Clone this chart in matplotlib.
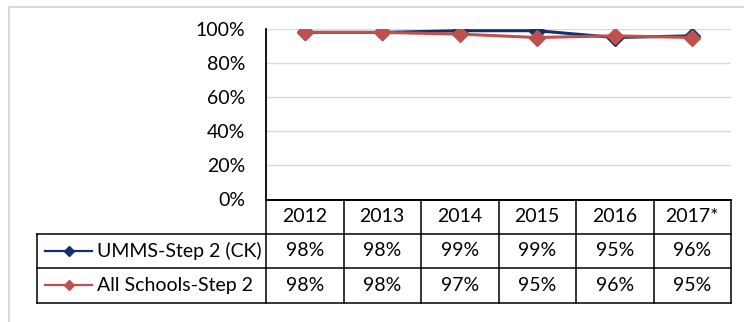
import numpy as np
import matplotlib.pyplot as plt
from matplotlib.lines import Line2D
from matplotlib.ticker import PercentFormatter

years = ["2012", "2013", "2014", "2015", "2016", "2017*"]
umms = [98, 98, 99, 99, 95, 96]
all_schools = [98, 98, 97, 95, 96, 95]
series_names = ["UMMS-Step 2 (CK)", "All Schools-Step 2"]
series_colors = ["#14306A", "#C0504D"]
series_values = [umms, all_schools]

plt.rcParams['font.family'] = ['Lato', 'DejaVu Sans']
FS = 14

W, H = 744, 322
fig = plt.figure(figsize=(W / 100, H / 100), dpi=100)


def box(x0, y0, x1, y1):
    # pixel box (top-left origin) -> figure fraction rect
    return [x0 / W, 1 - y1 / H, (x1 - x0) / W, (y1 - y0) / H]


# light chart frame
fig.add_artist(Line2D([8.5 / W, 8.5 / W], [0, 1 - 7 / H], transform=fig.transFigure,
                      color="#D9D9D9", lw=1.5))
fig.add_artist(Line2D([8.5 / W, 1], [1 - 7 / H, 1 - 7 / H], transform=fig.transFigure,
                      color="#D9D9D9", lw=1.5))

# --- line chart ---
ax = fig.add_axes(box(266, 29, 731, 199.5))
x = np.arange(len(years))
for vals, col, z in zip(series_values, series_colors, [3, 4]):
    ax.plot(x, vals, color=col, marker='D', ms=7.8, lw=2.2, zorder=z)

ax.set_xlim(-0.5, len(years) - 0.5)
ax.set_ylim(0, 100)
ax.set_yticks(range(0, 101, 20))
ax.yaxis.set_major_formatter(PercentFormatter(decimals=0))
ax.tick_params(axis='y', length=0, pad=15, labelsize=FS)
ax.tick_params(axis='x', bottom=False, labelbottom=False)
ax.grid(axis='y', color="#D9D9D9", lw=1)
ax.set_axisbelow(True)
for s in ['top', 'right']:
    ax.spines[s].set_visible(False)
for s in ['left', 'bottom']:
    ax.spines[s].set_color('black')
    ax.spines[s].set_linewidth(1.3)

# --- data table under the chart ---
tab = fig.add_axes(box(37, 199.5, 731, 302.5))
colw = (731 - 266) / len(years)
xl = -0.5 - (266 - 37) / colw
tab.set_xlim(xl, len(years) - 0.5)
tab.set_ylim(3, 0)
tab.axis('off')


def px(p):
    return xl + (p - 37) / colw


lk = dict(color='black', lw=1.1, clip_on=False)
tab.plot([-0.5, len(years) - 0.5], [0, 0], **lk)
for r in [1, 2, 3]:
    tab.plot([xl, len(years) - 0.5], [r, r], **lk)
tab.plot([xl, xl], [1, 3], **lk)
tab.plot([-0.5, -0.5], [0, 3], **lk)
for i in range(len(years)):
    tab.plot([i + 0.5, i + 0.5], [0, 3], **lk)

for i, yr in enumerate(years):
    tab.text(i, 0.5, yr, ha='center', va='center', fontsize=FS)

for r, (name, vals, col) in enumerate(zip(series_names, series_values, series_colors)):
    yc = r + 1.5
    tab.plot([px(45), px(92)], [yc, yc], color=col, lw=1.6, clip_on=False)
    tab.plot([(px(45) + px(92)) / 2], [yc], marker='D', ms=5, color=col, clip_on=False)
    tab.text(px(97), yc, name, ha='left', va='center', fontsize=FS)
    for i, v in enumerate(vals):
        tab.text(i, yc, f"{v}%", ha='center', va='center', fontsize=FS)

fig.savefig("out.png", dpi=100)
